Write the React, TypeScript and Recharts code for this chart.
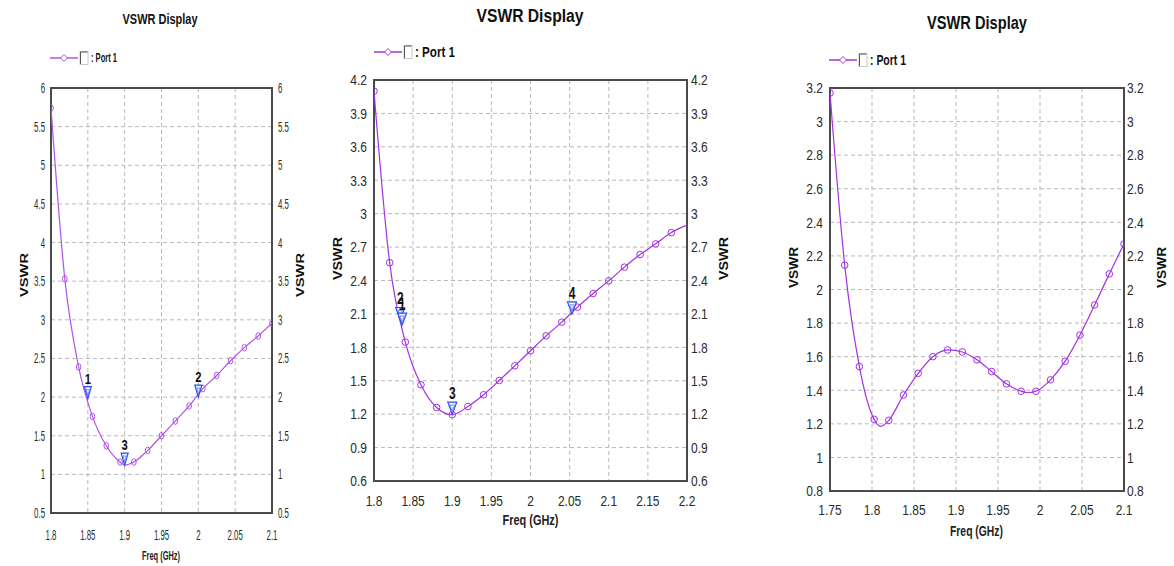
import React from "react";
import {
  CartesianGrid,
  Line,
  LineChart,
  ReferenceArea,
  ReferenceDot,
  XAxis,
  YAxis,
} from "recharts";

// panel 1: 1.8 - 2.1 GHz
const p1Freq = [1.8, 1.81875, 1.8375, 1.85625, 1.875, 1.89375, 1.9125, 1.93125, 1.95, 1.96875, 1.9875, 2.00625, 2.025, 2.04375, 2.0625, 2.08125, 2.1];
const p1Vswr = [5.74, 3.53, 2.39, 1.75, 1.37, 1.16, 1.16, 1.31, 1.5, 1.69, 1.885, 2.11, 2.28, 2.47, 2.64, 2.79, 2.955];
const p1CurveFreq = [1.9];
const p1CurveVswr = [1.12];
const p1XTicks = [1.8, 1.85, 1.9, 1.95, 2, 2.05, 2.1];
const p1YTicks = [0.5, 1, 1.5, 2, 2.5, 3, 3.5, 4, 4.5, 5, 5.5, 6];
const p1MarkerNames = ["1", "2", "3"];
const p1MarkerFreq = [1.85, 2.0, 1.9];
const p1MarkerVswr = [1.98, 2.0, 1.12];

// panel 2: 1.8 - 2.2 GHz
const p2Freq = [1.8, 1.82, 1.84, 1.86, 1.88, 1.9, 1.92, 1.94, 1.96, 1.98, 2.0, 2.02, 2.04, 2.06, 2.08, 2.1, 2.12, 2.14, 2.16, 2.18];
const p2Vswr = [4.1, 2.56, 1.847, 1.464, 1.26, 1.195, 1.269, 1.374, 1.502, 1.634, 1.769, 1.903, 2.026, 2.161, 2.283, 2.397, 2.52, 2.633, 2.729, 2.83];
const p2CurveFreq = [2.2];
const p2CurveVswr = [2.897];
const p2XTicks = [1.8, 1.85, 1.9, 1.95, 2, 2.05, 2.1, 2.15, 2.2];
const p2YTicks = [0.6, 0.9, 1.2, 1.5, 1.8, 2.1, 2.4, 2.7, 3, 3.3, 3.6, 3.9, 4.2];
const p2MarkerNames = ["2", "1", "3", "4"];
const p2MarkerFreq = [1.8335, 1.836, 1.9, 2.053];
const p2MarkerVswr = [2.05, 2.0, 1.2, 2.1];

// panel 3: 1.75 - 2.1 GHz
const p3Freq = [1.75, 1.7675, 1.785, 1.8025, 1.82, 1.8375, 1.855, 1.8725, 1.89, 1.9075, 1.925, 1.9425, 1.96, 1.9775, 1.995, 2.0125, 2.03, 2.0475, 2.065, 2.0825, 2.1];
const p3Vswr = [3.17, 2.145, 1.541, 1.227, 1.221, 1.372, 1.501, 1.6, 1.64, 1.628, 1.581, 1.511, 1.438, 1.394, 1.394, 1.462, 1.573, 1.728, 1.908, 2.093, 2.272];
const p3CurveFreq = [1.81, 1.986];
const p3CurveVswr = [1.185, 1.385];
const p3XTicks = [1.75, 1.8, 1.85, 1.9, 1.95, 2, 2.05, 2.1];
const p3YTicks = [0.8, 1, 1.2, 1.4, 1.6, 1.8, 2, 2.2, 2.4, 2.6, 2.8, 3, 3.2];

const FONT = "'Liberation Sans', Arial, sans-serif";
const H = 566;

type Pt = { freq: number; vswr: number; symbol: boolean };

function buildSeries(freq: number[], vswr: number[], curveFreq: number[], curveVswr: number[]): Pt[] {
  const pts: Pt[] = freq.map((f, i) => ({ freq: f, vswr: vswr[i], symbol: true }));
  curveFreq.forEach((f, i) => pts.push({ freq: f, vswr: curveVswr[i], symbol: false }));
  return pts.sort((a, b) => a.freq - b.freq);
}

const makeDot = (color: string, rx: number) => (props: any) => {
  const { cx, cy, payload, index } = props;
  if (!payload || !payload.symbol) return <g key={`d${index}`} />;
  return (
    <g key={`d${index}`}>
      <ellipse cx={cx} cy={cy} rx={rx} ry={3.3} fill="none" stroke={color} strokeWidth={1} />
    </g>
  );
};

// condensed tick text, the reference uses a narrow face
const makeTick = (anchor: string, sx: number, fs: number, dy: string) => (props: any) => {
  const { x, y, payload } = props;
  return (
    <g transform={`translate(${x},${y})`}>
      <text
        transform={`scale(${sx},1)`}
        textAnchor={anchor}
        dy={dy}
        fontSize={fs}
        fontFamily={FONT}
        fill="#2a2a2a"
      >
        {String(payload.value)}
      </text>
    </g>
  );
};

const makeMarker = (name: string, w: number, h: number, fs: number) => (props: any) => {
  const { cx, cy } = props;
  return (
    <g>
      <polygon
        points={`${cx - w / 2},${cy - h} ${cx + w / 2},${cy - h} ${cx},${cy}`}
        fill="#e9eeff"
        stroke="#2b50f0"
        strokeWidth={1.2}
      />
      <polygon
        points={`${cx - w / 4},${cy - h + 3} ${cx + w / 4},${cy - h + 3} ${cx},${cy - 3}`}
        fill="none"
        stroke="#5a78f5"
        strokeWidth={0.8}
      />
      <text x={cx} y={cy - h - 3} textAnchor="middle" fontSize={fs} fontWeight="bold" fontFamily={FONT} fill="#111"
        transform={`translate(${cx * 0.25},0) scale(0.75,1)`}>
        {name}
      </text>
    </g>
  );
};

type PanelProps = {
  left: number;
  width: number;
  plot: { l: number; r: number; t: number; b: number };
  data: Pt[];
  xDomain: [number, number];
  xTicks: number[];
  yDomain: [number, number];
  yTicks: number[];
  markerNames: string[];
  markerFreq: number[];
  markerVswr: number[];
  markerSize: [number, number, number];
  color: string;
  dotRx: number;
  tickSize: number;
  tickScale: number;
  xTickMargin: number;
  yTickGap: [number, number];
  title: { x: number; y: number; size: number; len: number };
  legend: { x: number; y: number; size: number; len: number };
  yLabel: { lx: number; rx: number; y: number; size: number; len: number };
  xLabel: { x: number; y: number; size: number; len: number };
};

function VswrPanel(p: PanelProps) {
  const xAxisH = 40;
  const lg = p.legend;
  return (
    <div style={{ position: "absolute", left: p.left, top: 0, width: p.width, height: H }}>
      <LineChart
        width={p.width}
        height={H}
        data={p.data}
        margin={{ top: p.plot.t, right: 0, left: 0, bottom: H - p.plot.b - xAxisH }}
      >
        <CartesianGrid yAxisId="l" stroke="#b9b9b9" strokeDasharray="4 3" />
        <XAxis
          dataKey="freq"
          type="number"
          domain={p.xDomain}
          ticks={p.xTicks}
          interval={0}
          allowDataOverflow
          height={xAxisH}
          axisLine={false}
          tickLine={false}
          tickSize={0}
          tickMargin={p.xTickMargin}
          tick={makeTick("middle", p.tickScale, p.tickSize, "0.71em")}
        />
        <YAxis
          yAxisId="l"
          type="number"
          domain={p.yDomain}
          ticks={p.yTicks}
          interval={0}
          allowDataOverflow
          width={p.plot.l}
          axisLine={false}
          tickLine={false}
          tickSize={0}
          tickMargin={p.yTickGap[0]}
          tick={makeTick("end", p.tickScale, p.tickSize, "0.355em")}
        />
        <YAxis
          yAxisId="r"
          orientation="right"
          type="number"
          domain={p.yDomain}
          ticks={p.yTicks}
          interval={0}
          allowDataOverflow
          width={p.width - p.plot.r}
          axisLine={false}
          tickLine={false}
          tickSize={0}
          tickMargin={p.yTickGap[1]}
          tick={makeTick("start", p.tickScale, p.tickSize, "0.355em")}
        />
        <ReferenceArea
          yAxisId="l"
          x1={p.xDomain[0]}
          x2={p.xDomain[1]}
          y1={p.yDomain[0]}
          y2={p.yDomain[1]}
          fill="none"
          stroke="#4a4a4a"
          strokeWidth={2}
          ifOverflow="visible"
        />
        <Line
          yAxisId="l"
          dataKey="vswr"
          type="monotone"
          stroke={p.color}
          strokeWidth={1.2}
          dot={makeDot(p.color, p.dotRx)}
          activeDot={false}
          isAnimationActive={false}
        />
        {p.markerNames.map((name, i) => (
          <ReferenceDot
            key={name + i}
            yAxisId="l"
            x={p.markerFreq[i]}
            y={p.markerVswr[i]}
            ifOverflow="visible"
            shape={makeMarker(name, p.markerSize[0], p.markerSize[1], p.markerSize[2])}
          />
        ))}
      </LineChart>
      <svg
        width={p.width}
        height={H}
        style={{ position: "absolute", left: 0, top: 0, pointerEvents: "none" }}
      >
        <text
          x={p.title.x}
          y={p.title.y}
          textAnchor="middle"
          fontFamily={FONT}
          fontWeight="bold"
          fontSize={p.title.size}
          fill="#111"
          textLength={p.title.len}
          lengthAdjust="spacingAndGlyphs"
        >
          VSWR Display
        </text>
        <line x1={lg.x} y1={lg.y} x2={lg.x + 28} y2={lg.y} stroke={p.color} strokeWidth={1.5} />
        <polygon
          points={`${lg.x + 14},${lg.y - 3.5} ${lg.x + 17.5},${lg.y} ${lg.x + 14},${lg.y + 3.5} ${lg.x + 10.5},${lg.y}`}
          fill="#fff"
          stroke={p.color}
          strokeWidth={1}
        />
        <rect x={lg.x + 30} y={lg.y - 6.5} width={8} height={13} fill="#fff" stroke="#c8c8c8" strokeWidth={1} />
        <polyline
          points={`${lg.x + 30.5},${lg.y + 6} ${lg.x + 30.5},${lg.y - 6} ${lg.x + 37.5},${lg.y - 6}`}
          fill="none"
          stroke="#555"
          strokeWidth={1}
        />
        <text
          x={lg.x + 41}
          y={lg.y + lg.size * 0.36}
          fontFamily={FONT}
          fontWeight="bold"
          fontSize={lg.size}
          fill="#111"
          textLength={lg.len}
          lengthAdjust="spacingAndGlyphs"
        >
          : Port 1
        </text>
        {[p.yLabel.lx, p.yLabel.rx].map((x, i) => (
          <text
            key={i}
            x={0}
            y={0}
            transform={`translate(${x + p.yLabel.size * 0.36},${p.yLabel.y}) rotate(-90)`}
            textAnchor="middle"
            fontFamily={FONT}
            fontWeight="bold"
            fontSize={p.yLabel.size}
            fill="#111"
            textLength={p.yLabel.len}
            lengthAdjust="spacingAndGlyphs"
          >
            VSWR
          </text>
        ))}
        <text
          x={p.xLabel.x}
          y={p.xLabel.y + p.xLabel.size * 0.36}
          textAnchor="middle"
          fontFamily={FONT}
          fontWeight="bold"
          fontSize={p.xLabel.size}
          fill="#222"
          textLength={p.xLabel.len}
          lengthAdjust="spacingAndGlyphs"
        >
          Freq (GHz)
        </text>
      </svg>
    </div>
  );
}

export default function App() {
  const d1 = buildSeries(p1Freq, p1Vswr, p1CurveFreq, p1CurveVswr);
  const d2 = buildSeries(p2Freq, p2Vswr, p2CurveFreq, p2CurveVswr);
  const d3 = buildSeries(p3Freq, p3Vswr, p3CurveFreq, p3CurveVswr);
  return (
    <div style={{ position: "absolute", left: 0, top: 0, width: 1174, height: H, background: "#fff", overflow: "hidden" }}>
      <VswrPanel
        left={0}
        width={310}
        plot={{ l: 51, r: 272, t: 88, b: 513 }}
        data={d1}
        xDomain={[1.8, 2.1]}
        xTicks={p1XTicks}
        yDomain={[0.5, 6]}
        yTicks={p1YTicks}
        markerNames={p1MarkerNames}
        markerFreq={p1MarkerFreq}
        markerVswr={p1MarkerVswr}
        markerSize={[7, 12, 15]}
        color="#ad55e6"
        dotRx={2.3}
        tickSize={14}
        tickScale={0.56}
        xTickMargin={17}
        yTickGap={[6, 6]}
        title={{ x: 160, y: 24, size: 15, len: 75 }}
        legend={{ x: 50, y: 58, size: 12, len: 26 }}
        yLabel={{ lx: 24.5, rx: 300, y: 275, size: 11, len: 44 }}
        xLabel={{ x: 161, y: 556, size: 12, len: 38 }}
      />
      <VswrPanel
        left={320}
        width={420}
        plot={{ l: 54, r: 367, t: 80, b: 481 }}
        data={d2}
        xDomain={[1.8, 2.2]}
        xTicks={p2XTicks}
        yDomain={[0.6, 4.2]}
        yTicks={p2YTicks}
        markerNames={p2MarkerNames}
        markerFreq={p2MarkerFreq}
        markerVswr={p2MarkerVswr}
        markerSize={[9, 12, 16]}
        color="#a230e2"
        dotRx={3.3}
        tickSize={15}
        tickScale={0.8}
        xTickMargin={14}
        yTickGap={[7, 4]}
        title={{ x: 210, y: 22, size: 18, len: 107 }}
        legend={{ x: 54, y: 52, size: 14, len: 40 }}
        yLabel={{ lx: 17.5, rx: 404, y: 258.5, size: 12, len: 43 }}
        xLabel={{ x: 210.5, y: 520, size: 14, len: 56 }}
      />
      <VswrPanel
        left={770}
        width={404}
        plot={{ l: 60, r: 354, t: 88, b: 491 }}
        data={d3}
        xDomain={[1.75, 2.1]}
        xTicks={p3XTicks}
        yDomain={[0.8, 3.2]}
        yTicks={p3YTicks}
        markerNames={[]}
        markerFreq={[]}
        markerVswr={[]}
        markerSize={[9, 12, 16]}
        color="#a230e2"
        dotRx={3.3}
        tickSize={15}
        tickScale={0.8}
        xTickMargin={13}
        yTickGap={[7, 3]}
        title={{ x: 207, y: 29, size: 18, len: 100 }}
        legend={{ x: 59, y: 60, size: 14, len: 36 }}
        yLabel={{ lx: 24, rx: 392, y: 267.5, size: 12, len: 41 }}
        xLabel={{ x: 206.5, y: 531, size: 14, len: 53 }}
      />
    </div>
  );
}
